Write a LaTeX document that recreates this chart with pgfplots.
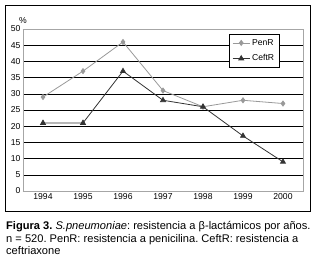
\documentclass[border=0pt]{standalone}
\usepackage{pgfplots}
\pgfplotsset{compat=1.18}
\usepackage{fontspec}
\setmainfont{Liberation Sans}
\definecolor{penc}{HTML}{999999}
\definecolor{cefc}{HTML}{333333}
\begin{document}
\frenchspacing
\begin{tikzpicture}
\path[use as bounding box] (0,0) rectangle (317pt,266pt);
\draw[line width=1pt] (6pt,55pt) rectangle (311pt,261pt);
\begin{axis}[
  at={(23pt,75pt)}, anchor=south west,
  scale only axis, width=280pt, height=162pt,
  xmin=-0.5, xmax=6.5, ymin=0, ymax=50,
  xtick={0,...,6}, xticklabels={1994,1995,1996,1997,1998,1999,2000},
  ytick={0,5,...,50},
  extra x ticks={-0.5,0.5,...,6.5}, extra x tick labels={},
  extra x tick style={major tick length=3pt, tick style={black}, grid=none},
  xtick style={draw=none},
  ytick style={draw=none},
  ymajorgrids, grid style={black, line width=0.6pt},
  axis line style={gray!70},
  tick label style={font=\fontsize{8.6}{9}\selectfont},
  /pgf/number format/assume math mode=true,
  xticklabel style={yshift=1pt},
  yticklabel style={xshift=1pt},
  legend style={at={(0.736,0.969)}, anchor=north west, draw=black, fill=white,
    font=\fontsize{8.6}{9}\selectfont, inner sep=3pt, row sep=4pt},
  legend cell align=left,
  clip=false,
]
\addplot[color=penc, line width=0.8pt, mark=diamond*, mark size=2.5pt, mark options={fill=penc}]
  coordinates {(0,29) (1,37) (2,46) (3,31) (4,26) (5,28) (6,27)};
\addlegendentry{PenR}
\addplot[color=cefc, line width=0.8pt, mark=triangle*, mark size=2.8pt, mark options={fill=cefc}]
  coordinates {(0,21) (1,21) (2,37) (3,28) (4,26) (5,17) (6,9)};
\addlegendentry{CeftR}
\node[anchor=south, font=\fontsize{8.6}{9}\selectfont] at (axis description cs:0,1.01) {\%};
\end{axis}
\node[anchor=north west, inner sep=0pt, align=left,
  font=\fontsize{11.1}{12.3}\selectfont] at (6pt,44.5pt)
  {\textbf{Figura 3.} \textit{S.pneumoniae}: resistencia a β-lactámicos por años.\\
   n = 520. PenR: resistencia a penicilina. CeftR: resistencia a\\
   ceftriaxone};
\end{tikzpicture}
\end{document}
